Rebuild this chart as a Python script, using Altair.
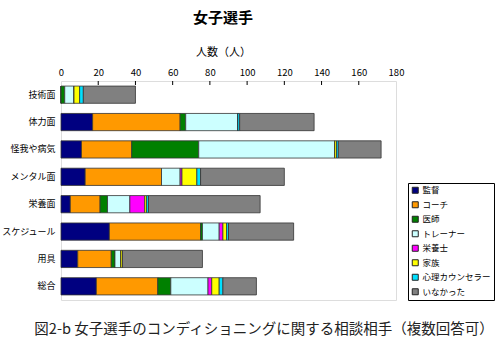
import altair as alt
import pandas as pd

categories = ["技術面", "体力面", "怪我や病気", "メンタル面", "栄養面", "スケジュール", "用具", "総合"]
series = ["監督", "コーチ", "医師", "トレーナー", "栄養士", "家族", "心理カウンセラー", "いなかった"]
colors = ["#000080", "#FF9900", "#008000", "#CCFFFF", "#FF00FF", "#FFFF00", "#00E0FF", "#808080"]

v_kantoku = [0, 17, 11, 13, 5, 26, 9, 19]
v_coach = [0, 47, 27, 41, 16, 49, 18, 33]
v_ishi = [2, 3, 36, 0, 4, 1, 2, 7]
v_trainer = [5, 28, 73, 10, 12, 9, 3, 20]
v_eiyoushi = [0, 0, 0, 1, 8, 2, 0, 2]
v_kazoku = [3, 0, 1, 8, 1, 2, 1, 4]
v_shinri = [2, 1, 1, 2, 1, 1, 0, 2]
v_inakatta = [28, 40, 23, 45, 60, 35, 43, 18]

x_ticks = [0, 20, 40, 60, 80, 100, 120, 140, 160, 180]

title_text = "女子選手"
axis_title = "人数（人）"
caption_text = "図2-b  女子選手のコンディショニングに関する相談相手（複数回答可）"

all_vals = [v_kantoku, v_coach, v_ishi, v_trainer, v_eiyoushi, v_kazoku, v_shinri, v_inakatta]
rows = []
for si, (s, vals) in enumerate(zip(series, all_vals)):
    for c, v in zip(categories, vals):
        rows.append({"category": c, "series": s, "value": v, "ord": si})
df = pd.DataFrame(rows)

FONT = "Noto Sans CJK JP"

xscale = alt.Scale(domain=[0, 180], nice=False)
xaxis = alt.Axis(orient="top", values=x_ticks, title=axis_title, grid=False,
                 ticks=False, domain=False, labelFontSize=9.5, labelFont=FONT,
                 labelColor="black", labelPadding=4, labelOverlap=False,
                 labelFlush=False, titleFont=FONT,
                 titleFontSize=11, titleFontWeight="normal", titleColor="black",
                 titleX=162, titleY=-29, titleBaseline="middle", titleAlign="center")

bars = alt.Chart(df).mark_bar(stroke="#333333", strokeWidth=0.8).encode(
    x=alt.X("value:Q", scale=xscale, stack="zero", axis=xaxis),
    y=alt.Y("category:N", sort=categories,
            scale=alt.Scale(paddingInner=0.37, paddingOuter=0.185),
            axis=alt.Axis(title=None, ticks=False, domain=False, labelFontSize=9,
                          labelFont=FONT, labelColor="black", labelPadding=6)),
    color=alt.Color("series:N", sort=series,
                    scale=alt.Scale(domain=series, range=colors),
                    legend=alt.Legend(title=None, orient="none", legendX=347, legendY=102,
                                      symbolType="square", symbolSize=36,
                                      symbolStrokeColor="#222222", symbolStrokeWidth=1,
                                      labelFont=FONT, labelFontSize=8.5, labelColor="black",
                                      labelOffset=3, rowPadding=3.5, padding=3,
                                      strokeColor="black", fillColor="white")),
    order=alt.Order("ord:Q"),
)

tick_df = pd.DataFrame({"t": x_ticks[1:-1]})
ticks = alt.Chart(tick_df).mark_rule(color="black", strokeWidth=1).encode(
    x=alt.X("t:Q", scale=xscale, axis=xaxis),
    y=alt.value(0),
    y2=alt.value(4),
)

title = alt.Chart(pd.DataFrame({"t": [title_text]})).mark_text(
    font=FONT, fontSize=15, fontWeight="bold", color="black", baseline="middle", align="center"
).encode(x=alt.value(162), y=alt.value(-63), text="t:N")

caption = alt.Chart(pd.DataFrame({"t": [caption_text]})).mark_text(
    font=FONT, fontSize=14.5, color="#222222", baseline="middle", align="center"
).encode(x=alt.value(203), y=alt.value(249), text="t:N")

chart = alt.layer(bars, ticks, title, caption).properties(
    width=335, height=219,
    autosize=alt.AutoSizeParams(type="none"),
    padding={"left": 61, "top": 81, "right": 104, "bottom": 51},
).configure_view(stroke="black", strokeWidth=1.2).configure(background="white")

chart.save("out.html", embed_options={"renderer": "svg", "actions": False})
